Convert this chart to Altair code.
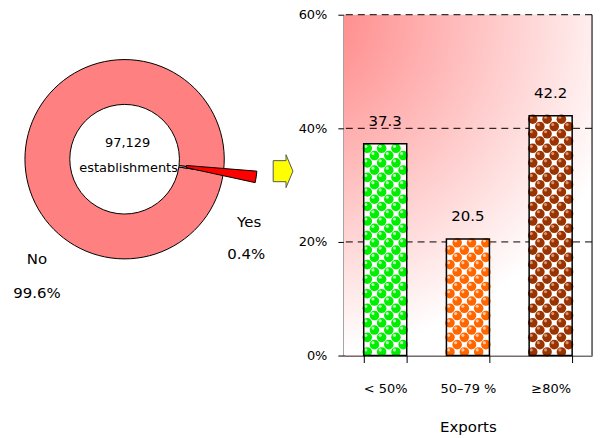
import altair as alt
import pandas as pd
import numpy as np

# ---------------- data ----------------
share_labels = ["No", "Yes"]
share_values = [99.6, 0.4]
share_text = ["99.6%", "0.4%"]
center_text = ["97,129", "establishments"]

export_cats = ["< 50%", "50–79 %", "≥80%"]
export_values = [37.3, 20.5, 42.2]
bar_colors = ["#00EE00", "#FF6600", "#993300"]
shine_colors = ["#B8FFB8", "#FFC8A0", "#D89070"]
y_ticks = [0, 20, 40, 60]
x_title = "Exports"

FONT = "DejaVu Sans"

# ---------------- left: donut ----------------
pie_df = pd.DataFrame({"label": share_labels, "pct": share_values, "order": [0, 1]})
start = np.deg2rad(98.2)

ring = alt.Chart(pie_df).mark_arc(
    innerRadius=55, outerRadius=100, stroke="black", strokeWidth=1
).encode(
    theta=alt.Theta("pct:Q", stack=True,
                    scale=alt.Scale(domain=[0, 100], range=[start, start + 2 * np.pi])),
    color=alt.Color("label:N", scale=alt.Scale(domain=share_labels, range=["#FF8080", "#FFFFFF"]),
                    legend=None),
    order=alt.Order("order:Q"),
    x=alt.value(117), y=alt.value(145),
)

explode = alt.Chart(pie_df).transform_filter(alt.datum.label == share_labels[1]).mark_arc(
    innerRadius=16, outerRadius=87, fill="#FF0000", stroke="black", strokeWidth=1
).encode(
    theta=alt.Theta("pct:Q", stack=True,
                    scale=alt.Scale(domain=[0, share_values[1]], range=[1.651, 1.785])),
    x=alt.value(163), y=alt.value(150),
)

arrow_path = "M -0.6 -0.64 L 0.18 -0.64 L 0.18 -1 L 0.6 0 L 0.18 1 L 0.18 0.64 L -0.6 0.64 Z"
arrow = alt.Chart(pd.DataFrame({"a": [0]})).mark_point(
    shape=arrow_path, filled=True, color="#FFFF00", stroke="#555555", strokeWidth=1,
    size=1089, opacity=1
).encode(x=alt.value(276), y=alt.value(157))


def label(text, x, y, size):
    return alt.Chart(pd.DataFrame({"t": [text]})).mark_text(
        font=FONT, fontSize=size, color="black"
    ).encode(text="t:N", x=alt.value(x), y=alt.value(y))


left = alt.layer(
    ring, explode, arrow,
    label(center_text[0], 120, 129, 13),
    label(center_text[1], 121, 154, 13),
    label(share_labels[1], 242, 208, 15),
    label(share_text[1], 239, 240, 15),
    label(share_labels[0], 29, 245, 15),
    label(share_text[0], 29, 279, 15),
).resolve_scale(theta="independent").properties(
    width=290, height=342, view=alt.ViewBackground(strokeOpacity=0, strokeWidth=0)
)

# ---------------- right: bars ----------------
bar_df = pd.DataFrame({"cat": export_cats, "val": export_values})
grid_df = pd.DataFrame({"t": y_ticks[1:]})

PAD_IN = 0.48
N_COL = 6
pitch = 1.28
dots = []
for i, (cat, v) in enumerate(zip(export_cats, export_values)):
    r = 0
    while (r + 0.5) * pitch <= v - 0.35 * pitch:
        for c in range(N_COL):
            if (c + r) % 2 == 0:
                dots.append({"cat": cat,
                             "xq": i + (c + 0.5 - N_COL / 2) / N_COL * (1 - PAD_IN),
                             "yv": (r + 0.5) * pitch})
        r += 1
dot_df = pd.DataFrame(dots)

x_scale = alt.Scale(paddingInner=PAD_IN, paddingOuter=PAD_IN / 2)
x_axis = alt.Axis(
    title=x_title, labelAngle=0, tickBand="extent", tickSize=7, labelPadding=20,
    titlePadding=24, domainColor="black", tickColor="black", labelColor="black",
    titleColor="black", labelFont=FONT, labelFontSize=13, titleFont=FONT,
    titleFontSize=15, titleFontWeight="normal", grid=False,
)
y_scale = alt.Scale(domain=[0, 60], nice=False)
y_axis = alt.Axis(
    values=y_ticks, labelExpr="datum.value + '%'", title=None, grid=False,
    tickSize=6, labelPadding=11, domainColor="black", domainWidth=1.5,
    tickColor="black", labelColor="black", labelFont=FONT, labelFontSize=13,
)


def X(axis=None):
    return alt.X("cat:N", sort=export_cats, scale=x_scale, axis=axis)


grad = alt.RadialGradient(
    gradient="radial",
    stops=[alt.GradientStop(color="#FF7F7F", offset=0),
           alt.GradientStop(color="#FFFFFF", offset=1)],
    x1=0, y1=0, r1=0, x2=0, y2=0, r2=1,
)

background = alt.Chart(pd.DataFrame({"a": [0]})).mark_rect(fill=grad).encode(
    x=alt.value(0), x2=alt.value("width"), y=alt.value(0), y2=alt.value("height")
)
grid = alt.Chart(grid_df).mark_rule(color="black", strokeDash=[7, 5], strokeWidth=1).encode(
    y=alt.Y("t:Q", scale=y_scale, axis=y_axis)
)
bars = alt.Chart(bar_df).mark_bar(fill="white", strokeWidth=0).encode(
    x=X(x_axis), y=alt.Y("val:Q", scale=y_scale, axis=y_axis)
)
dx = alt.X("xq:Q", scale=alt.Scale(domain=[-0.5, len(export_cats) - 0.5], nice=False, zero=False),
           axis=None)
dot_layer = alt.Chart(dot_df).mark_point(shape="circle", filled=True, size=92, opacity=1).encode(
    x=dx,
    y=alt.Y("yv:Q", scale=y_scale, axis=y_axis),
    color=alt.Color("cat:N", scale=alt.Scale(domain=export_cats, range=bar_colors), legend=None),
)
shine_layer = alt.Chart(dot_df).mark_point(
    shape="circle", filled=True, size=10, opacity=1, xOffset=-1.5, yOffset=-2
).encode(
    x=dx,
    y=alt.Y("yv:Q", scale=y_scale, axis=y_axis),
    color=alt.Color("cat:N", scale=alt.Scale(domain=export_cats, range=shine_colors), legend=None),
)
outline = alt.Chart(bar_df).mark_bar(fillOpacity=0, stroke="black", strokeWidth=1.5).encode(
    x=X(), y=alt.Y("val:Q", scale=y_scale, axis=y_axis)
)
texts = alt.Chart(bar_df).mark_text(dy=-23, font=FONT, fontSize=15, color="black").encode(
    x=X(), y=alt.Y("val:Q", scale=y_scale, axis=y_axis),
    text=alt.Text("val:Q", format=".1f"),
)
border = alt.Chart(pd.DataFrame({"a": [0]})).mark_rule(color="black", strokeWidth=1).encode(
    x=alt.value("width"), y=alt.value(0), y2=alt.value("height")
)

right = alt.layer(
    background, grid, bars, dot_layer, shine_layer, outline, texts, border
).resolve_scale(x="independent", color="independent").properties(width=249, height=342)

chart = alt.hconcat(left, right, spacing=0).resolve_scale(color="independent").properties(
    padding={"left": 0, "top": -1, "right": 0, "bottom": 0}, background="white"
).configure_view(strokeOpacity=0).configure(font=FONT)

chart.save("out.html", embed_options={"renderer": "svg", "actions": False})
